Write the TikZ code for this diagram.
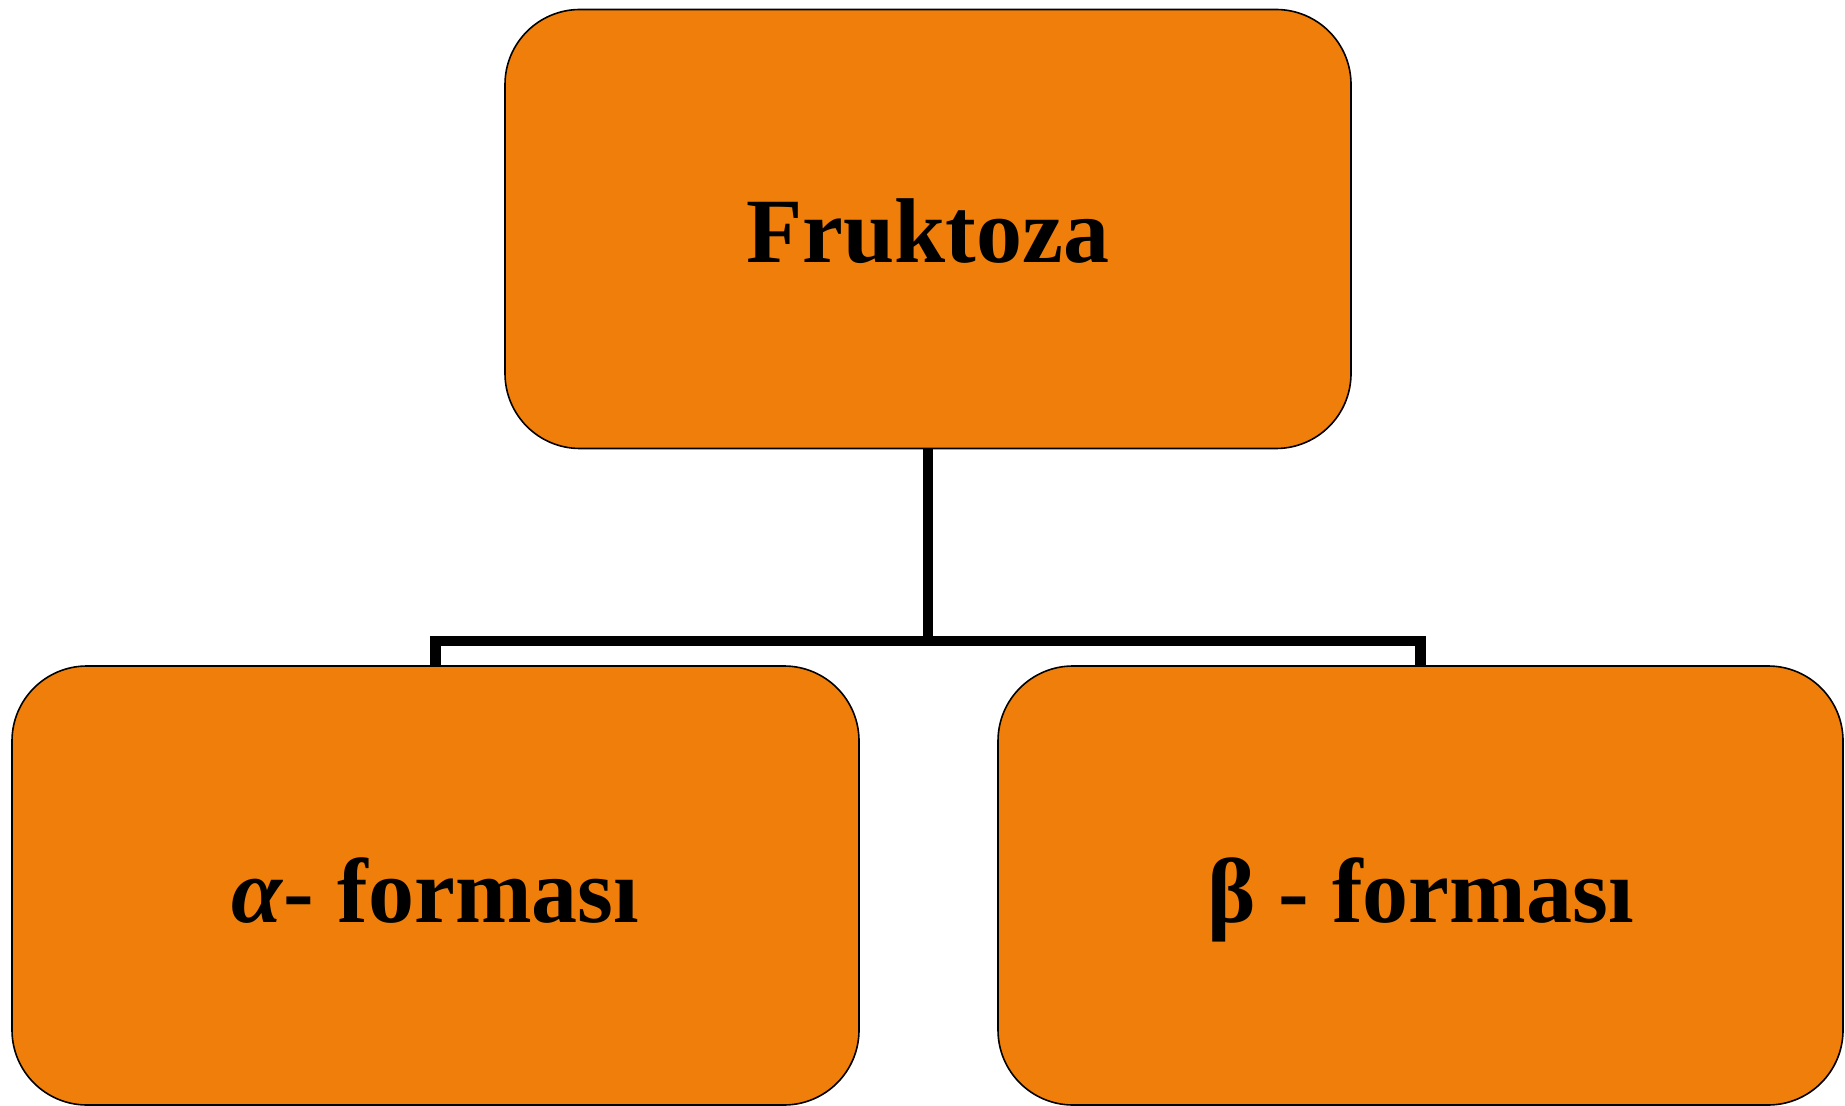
\documentclass[tikz,border=0pt]{standalone}
\usepackage{fontspec}
\setmainfont{Liberation Serif}
\definecolor{boxorange}{RGB}{239,127,10}
\newcommand{\lowered}[2]{\raisebox{-#1}[\height][\depth]{#2}}
\begin{document}
\begin{tikzpicture}[x=0.5pt,y=-0.5pt,
  card/.style={draw=black, line width=0.8pt, fill=boxorange, rounded corners=37.5pt,
    minimum width=#1, minimum height=219.5pt, inner sep=0pt,
    font=\fontsize{46}{55}\selectfont\bfseries},
  link/.style={draw=black, line width=5.2pt}]
\useasboundingbox (0,0) rectangle (1845,1106);
\node[card=423pt] (top) at (928,229) {\lowered{1.2pt}{Fruktoza}};
\node[card=423.5pt] (alpha) at (435.5,885.5) {\lowered{2.5pt}{\textit{α}- forması}};
\node[card=422.5pt] (beta) at (1420.5,885.5) {\lowered{7pt}{β - forması}};
\coordinate (j) at (928,641);
\draw[link] (top.south) -- (j) -| (alpha.north);
\draw[link] (j) -| (beta.north);
\end{tikzpicture}
\end{document}
